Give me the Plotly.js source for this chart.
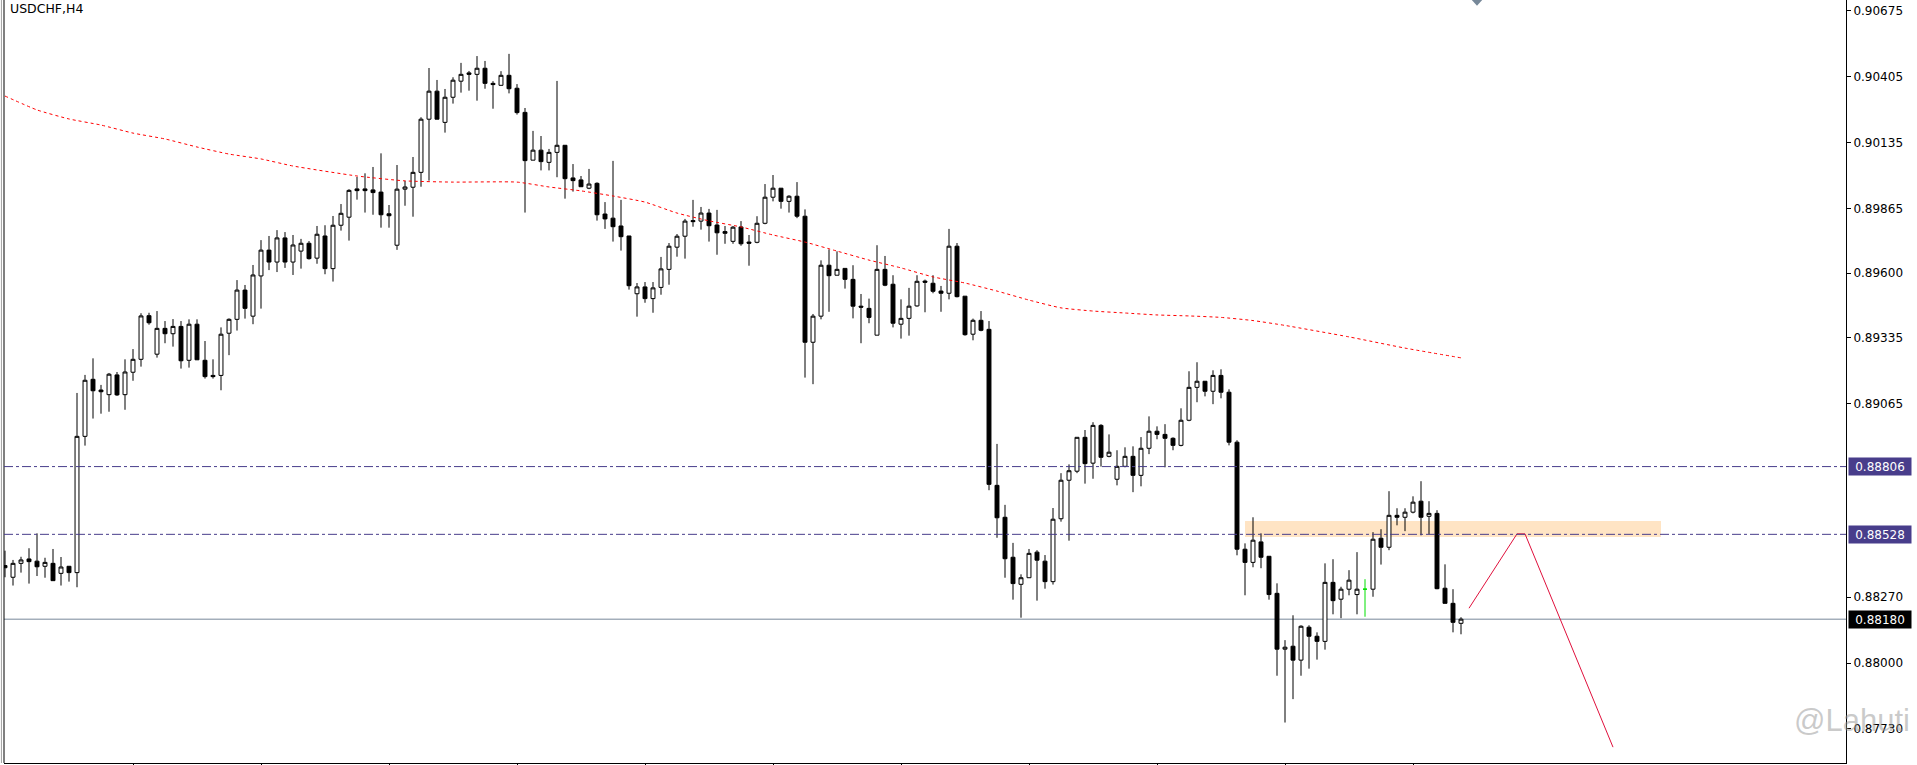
<!DOCTYPE html>
<html><head><meta charset="utf-8">
<script src="https://cdn.plot.ly/plotly-3.0.1.min.js"></script>
<style>html,body{margin:0;padding:0;background:#fff;overflow:hidden}#chart{width:1917px;height:765px}</style>
</head><body><div id="chart"></div>
<script>
const symbolTitle = 'USDCHF,H4';
const watermark = '@Lahuti';

const opens = [0.88400,0.88352,0.88409,0.88427,0.88418,0.88397,0.88409,0.88368,0.88397,0.88371,
0.88930,0.89164,0.89120,0.89101,0.89182,0.89101,0.89193,0.89246,0.89425,0.89267,
0.89373,0.89351,0.89381,0.89242,0.89390,0.89242,0.89180,0.89180,0.89353,0.89410,
0.89530,0.89423,0.89588,0.89694,0.89645,0.89744,0.89645,0.89690,0.89722,0.89661,
0.89752,0.89618,0.89796,0.89829,0.89945,0.89945,0.89941,0.89932,0.89843,0.89714,
0.89944,0.89952,0.90013,0.90231,0.90346,0.90218,0.90321,0.90387,0.90421,0.90415,
0.90440,0.90378,0.90370,0.90411,0.90358,0.90259,0.90063,0.90104,0.90054,0.90095,
0.90124,0.89990,0.89982,0.89948,0.89968,0.89842,0.89825,0.89793,0.89752,0.89515,
0.89543,0.89495,0.89541,0.89615,0.89706,0.89751,0.89815,0.89813,0.89846,0.89797,
0.89770,0.89730,0.89789,0.89727,0.89726,0.89804,0.89911,0.89948,0.89894,0.89915,
0.89833,0.89316,0.89423,0.89632,0.89591,0.89619,0.89574,0.89464,0.89455,0.89345,
0.89615,0.89554,0.89390,0.89414,0.89465,0.89567,0.89558,0.89526,0.89517,0.89710,
0.89505,0.89349,0.89406,0.89369,0.88729,0.88598,0.88434,0.88323,0.88350,0.88455,
0.88418,0.88334,0.88592,0.88750,0.88787,0.88926,0.88820,0.88975,0.88848,0.88754,
0.88807,0.88848,0.88770,0.88881,0.88951,0.88938,0.88922,0.88893,0.88996,0.89131,
0.89156,0.89115,0.89180,0.89111,0.88906,0.88467,0.88413,0.88497,0.88438,0.88286,
0.88057,0.88069,0.88012,0.88147,0.88110,0.88089,0.88331,0.88262,0.88303,0.88281,
0.88303,0.88303,0.88512,0.88475,0.88606,0.88598,0.88619,0.88664,0.88602,0.88614,
0.88307,0.88245,0.88163];

const highs = [0.88461,0.88423,0.88436,0.88471,0.88532,0.88432,0.88468,0.88435,0.88397,0.89108,
0.89182,0.89250,0.89141,0.89190,0.89194,0.89246,0.89288,0.89435,0.89437,0.89444,
0.89403,0.89411,0.89403,0.89410,0.89410,0.89321,0.89246,0.89377,0.89414,0.89571,
0.89551,0.89633,0.89735,0.89752,0.89776,0.89768,0.89756,0.89740,0.89731,0.89793,
0.89796,0.89834,0.89883,0.89944,0.89994,0.90009,0.90035,0.90091,0.89879,0.90043,
0.89978,0.90076,0.90239,0.90441,0.90392,0.90355,0.90403,0.90462,0.90429,0.90490,
0.90470,0.90387,0.90428,0.90499,0.90375,0.90277,0.90183,0.90162,0.90109,0.90388,
0.90124,0.90047,0.89998,0.90027,0.89972,0.89891,0.90060,0.89900,0.89752,0.89559,
0.89563,0.89563,0.89666,0.89723,0.89760,0.89822,0.89900,0.89871,0.89863,0.89859,
0.89793,0.89793,0.89813,0.89756,0.89833,0.89965,0.90002,0.89948,0.89919,0.89973,
0.89861,0.89432,0.89652,0.89697,0.89689,0.89619,0.89632,0.89514,0.89495,0.89714,
0.89670,0.89591,0.89492,0.89539,0.89591,0.89573,0.89591,0.89547,0.89781,0.89723,
0.89505,0.89413,0.89444,0.89403,0.88899,0.88649,0.88493,0.88364,0.88468,0.88463,
0.88443,0.88636,0.88779,0.88815,0.88926,0.88956,0.88988,0.88980,0.88938,0.88873,
0.88885,0.88889,0.88927,0.89012,0.88971,0.88980,0.88926,0.89045,0.89197,0.89234,
0.89156,0.89201,0.89205,0.89123,0.88914,0.88491,0.88598,0.88532,0.88438,0.88327,
0.88094,0.88196,0.88155,0.88155,0.88126,0.88409,0.88426,0.88313,0.88381,0.88455,
0.88344,0.88537,0.88549,0.88705,0.88635,0.88635,0.88684,0.88746,0.88664,0.88627,
0.88405,0.88303,0.88188];

const lows = [0.88352,0.88318,0.88371,0.88326,0.88357,0.88350,0.88338,0.88318,0.88334,0.88311,
0.88892,0.89003,0.89023,0.89031,0.89096,0.89039,0.89158,0.89216,0.89388,0.89253,
0.89312,0.89298,0.89208,0.89212,0.89244,0.89167,0.89167,0.89119,0.89263,0.89364,
0.89413,0.89390,0.89454,0.89612,0.89604,0.89621,0.89592,0.89618,0.89655,0.89638,
0.89595,0.89565,0.89774,0.89733,0.89901,0.89848,0.89839,0.89786,0.89786,0.89695,
0.89876,0.89831,0.89954,0.89979,0.90231,0.90176,0.90295,0.90340,0.90348,0.90307,
0.90356,0.90274,0.90370,0.90337,0.90250,0.89848,0.90063,0.90021,0.90021,0.89993,
0.89905,0.89934,0.89954,0.89944,0.89815,0.89781,0.89729,0.89692,0.89532,0.89421,
0.89478,0.89437,0.89511,0.89552,0.89667,0.89659,0.89790,0.89778,0.89729,0.89675,
0.89720,0.89720,0.89712,0.89630,0.89722,0.89800,0.89894,0.89864,0.89848,0.89825,
0.89171,0.89144,0.89410,0.89441,0.89591,0.89536,0.89414,0.89312,0.89394,0.89345,
0.89546,0.89377,0.89331,0.89343,0.89462,0.89439,0.89517,0.89441,0.89492,0.89500,
0.89343,0.89324,0.89361,0.88709,0.88514,0.88350,0.88260,0.88186,0.88350,0.88256,
0.88305,0.88322,0.88580,0.88502,0.88779,0.88736,0.88756,0.88806,0.88844,0.88729,
0.88803,0.88701,0.88725,0.88857,0.88918,0.88803,0.88873,0.88889,0.88992,0.89070,
0.89094,0.89062,0.89086,0.88893,0.88442,0.88278,0.88393,0.88389,0.88260,0.87948,
0.87756,0.87852,0.87948,0.87977,0.88014,0.88055,0.88200,0.88184,0.88278,0.88200,
0.88190,0.88272,0.88404,0.88463,0.88565,0.88541,0.88614,0.88524,0.88528,0.88303,
0.88245,0.88126,0.88118];

const closes = [0.88391,0.88409,0.88423,0.88416,0.88395,0.88413,0.88338,0.88394,0.88371,0.88930,
0.89160,0.89117,0.89113,0.89185,0.89100,0.89194,0.89246,0.89424,0.89396,0.89373,
0.89351,0.89381,0.89240,0.89390,0.89244,0.89175,0.89175,0.89349,0.89410,0.89530,
0.89455,0.89592,0.89694,0.89645,0.89744,0.89645,0.89715,0.89722,0.89659,0.89759,
0.89618,0.89796,0.89845,0.89939,0.89938,0.89938,0.89930,0.89839,0.89835,0.89944,
0.89953,0.90013,0.90231,0.90346,0.90231,0.90321,0.90391,0.90415,0.90415,0.90440,
0.90378,0.90373,0.90411,0.90356,0.90258,0.90061,0.90104,0.90057,0.90095,0.90124,
0.89987,0.89979,0.89954,0.89965,0.89839,0.89822,0.89790,0.89749,0.89548,0.89543,
0.89495,0.89539,0.89617,0.89710,0.89751,0.89813,0.89811,0.89846,0.89794,0.89765,
0.89763,0.89788,0.89720,0.89722,0.89804,0.89911,0.89948,0.89894,0.89915,0.89833,
0.89316,0.89423,0.89632,0.89589,0.89615,0.89574,0.89464,0.89460,0.89418,0.89615,
0.89550,0.89394,0.89414,0.89464,0.89566,0.89562,0.89525,0.89517,0.89710,0.89503,
0.89347,0.89406,0.89365,0.88733,0.88596,0.88428,0.88326,0.88350,0.88450,0.88422,
0.88334,0.88590,0.88750,0.88789,0.88926,0.88818,0.88975,0.88844,0.88865,0.88807,
0.88848,0.88770,0.88881,0.88951,0.88938,0.88922,0.88893,0.88996,0.89131,0.89156,
0.89115,0.89180,0.89111,0.88906,0.88467,0.88413,0.88504,0.88434,0.88281,0.88057,
0.88065,0.88012,0.88151,0.88110,0.88089,0.88331,0.88256,0.88303,0.88340,0.88303,
0.88303,0.88508,0.88475,0.88606,0.88598,0.88619,0.88660,0.88598,0.88614,0.88305,
0.88245,0.88167,0.88180];

// bars drawn in the doji (line) colour
const dojiBars = [170];

// moving average, sampled at bar numbers
const maBars = [0,4,8,12,16,20,24,28,32,36,44,50,56,64,68,72,76,80,84,88,92,96,100,104,108,112,116,120,124,128,132,136,140,144,148,152,156,160,168,175,182];
const maValues = [0.90326,0.90269,0.90232,0.90207,0.90174,0.90150,0.90117,0.90088,0.90068,0.90039,0.89998,0.89978,0.89973,0.89973,0.89953,0.89937,0.89916,0.89891,0.89846,0.89814,0.89789,0.89756,0.89727,0.89690,0.89653,0.89621,0.89584,0.89559,0.89526,0.89489,0.89457,0.89444,0.89436,0.89428,0.89424,0.89418,0.89405,0.89385,0.89338,0.89292,0.89252];

const levelPrices = [0.88806, 0.88528];
const bidPrice = 0.88180;
const zoneBars = [155, 207];
const zonePrices = [0.88517, 0.88583];
const projBars = [183, 189, 190, 201];
const projPrices = [0.88225, 0.88530, 0.88530, 0.87655];
const shiftBar = 184;
const tickPrices = [0.90675,0.90405,0.90135,0.89865,0.89600,0.89335,0.89065,0.88270,0.88000,0.87730];
const timeTickBars = [16,32,48,64,80,96,112,128,144,160,176];

const FONT = 'DejaVu Sans, Tahoma, sans-serif';
const bars = opens.map((_, i) => i);
const keep = bars.filter(i => dojiBars.indexOf(i) < 0);
const pick = (arr, idx) => idx.map(i => arr[i]);

const traces = [
  {
    type: 'candlestick', x: pick(bars, keep), open: pick(opens, keep), high: pick(highs, keep),
    low: pick(lows, keep), close: pick(closes, keep), whiskerwidth: 0,
    increasing: {line: {color: '#000000', width: 1}, fillcolor: '#ffffff'},
    decreasing: {line: {color: '#000000', width: 1}, fillcolor: '#000000'},
    hoverinfo: 'skip', showlegend: false
  },
  {
    type: 'candlestick', x: pick(bars, dojiBars), open: pick(opens, dojiBars), high: pick(highs, dojiBars),
    low: pick(lows, dojiBars), close: pick(closes, dojiBars), whiskerwidth: 0,
    increasing: {line: {color: '#00e000', width: 1}, fillcolor: '#00e000'},
    decreasing: {line: {color: '#00e000', width: 1}, fillcolor: '#00e000'},
    hoverinfo: 'skip', showlegend: false
  },
  {
    type: 'scatter', mode: 'lines', x: maBars, y: maValues,
    line: {color: '#ff0000', width: 1, dash: '3px,3px', shape: 'spline', smoothing: 0.5},
    hoverinfo: 'skip', showlegend: false
  },
  {
    type: 'scatter', mode: 'lines', x: projBars, y: projPrices,
    line: {color: '#e0103c', width: 1},
    hoverinfo: 'skip', showlegend: false
  }
];

const shapes = [
  {type: 'rect', xref: 'x', yref: 'y', x0: zoneBars[0], x1: zoneBars[1], y0: zonePrices[0], y1: zonePrices[1],
   fillcolor: '#ffe4c4', line: {width: 0}, layer: 'below'},
  {type: 'line', xref: 'paper', yref: 'y', x0: 0, x1: 1, y0: bidPrice, y1: bidPrice,
   line: {color: '#778899', width: 1}, layer: 'below'},
  {type: 'line', xref: 'paper', yref: 'paper', x0: 0, x1: 0, y0: 0, y1: 1.01, line: {color: '#000', width: 1}},
  {type: 'line', xref: 'paper', yref: 'paper', x0: -0.0014, x1: -0.0014, y0: 0, y1: 1.01, line: {color: '#a0a0a0', width: 1}},
  {type: 'path', xref: 'x', yref: 'paper', path: `M ${shiftBar-0.65},1 L ${shiftBar+0.65},1 L ${shiftBar},0.9925 Z`,
   fillcolor: '#778899', line: {width: 0}}
];
levelPrices.forEach(p => shapes.push({
  type: 'line', xref: 'paper', yref: 'y', x0: 0, x1: 1, y0: p, y1: p,
  line: {color: '#483d8b', width: 1, dash: '9px,3px,3px,3px'}, layer: 'above'
}));

const annotations = [
  {xref: 'paper', yref: 'paper', x: 0, y: 1, xanchor: 'left', yanchor: 'top', xshift: 4, yshift: 1,
   text: symbolTitle, showarrow: false, font: {family: FONT, size: 12.5, color: '#000'}},
  {xref: 'paper', yref: 'paper', x: 1.0, y: 0.056, xanchor: 'center', yanchor: 'middle', xshift: 6,
   text: watermark, showarrow: false, font: {family: 'Liberation Sans, Arial, sans-serif', size: 31, color: 'rgba(150,150,150,0.5)'}}
];
const boxLabel = (p, bg) => ({
  xref: 'paper', yref: 'y', x: 1, y: p, xanchor: 'left', yanchor: 'middle', xshift: 2,
  text: p.toFixed(5), showarrow: false, bgcolor: bg, borderpad: 2, width: 58, height: 13, align: 'center',
  font: {family: FONT, size: 12, color: '#ffffff'}
});
levelPrices.forEach(p => annotations.push(boxLabel(p, '#483d8b')));
annotations.push(boxLabel(bidPrice, '#000000'));

const layout = {
  width: 1917, height: 765,
  margin: {l: 4, r: 71, t: 0, b: 2, pad: 0},
  paper_bgcolor: '#ffffff', plot_bgcolor: '#ffffff',
  showlegend: false, hovermode: false, dragmode: false,
  boxgap: 0.3, boxgroupgap: 0.3,
  xaxis: {range: [-0.125, 230.125], showgrid: false, zeroline: false, showticklabels: false,
          showline: true, linecolor: '#000', linewidth: 1, ticks: 'outside', ticklen: 3, tickcolor: '#000',
          tickvals: timeTickBars, rangeslider: {visible: false}, fixedrange: true},
  yaxis: {range: [0.87590, 0.90720], side: 'right', showgrid: false, zeroline: false,
          showline: true, linecolor: '#000', linewidth: 1, ticks: 'outside', ticklen: 4, tickcolor: '#000',
          tickvals: tickPrices, tickformat: '.5f', tickfont: {family: FONT, size: 12, color: '#000'}, fixedrange: true},
  shapes: shapes, annotations: annotations
};

Plotly.newPlot('chart', traces, layout, {staticPlot: true, displayModeBar: false});
</script>
</body></html>
